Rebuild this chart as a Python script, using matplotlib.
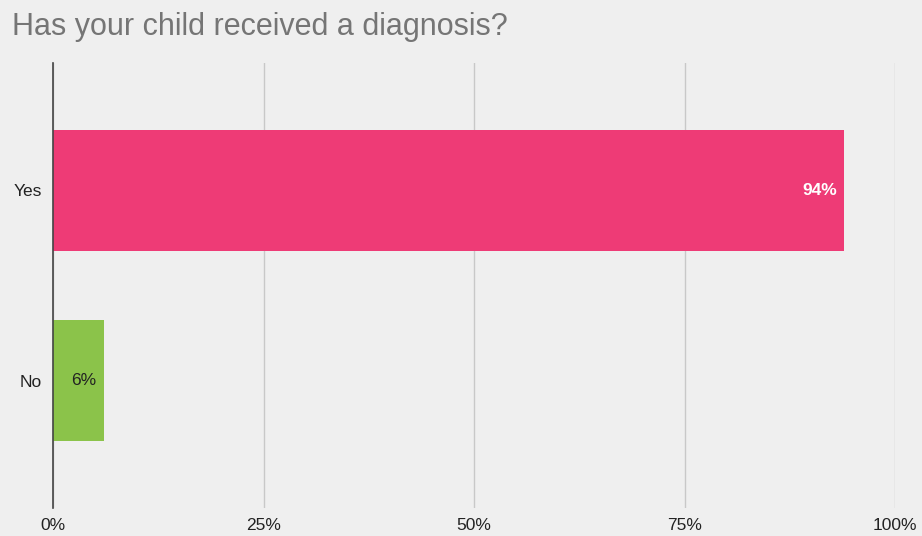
import matplotlib
matplotlib.use("Agg")
from matplotlib import pyplot as plt
from matplotlib.ticker import FuncFormatter

categories = ["Yes", "No"]
values = [94, 6]
bar_colors = ["#EE3B76", "#8BC34A"]
label_colors = ["white", "#222222"]
ticks = [0, 25, 50, 75, 100]

plt.rcParams['font.family'] = ['Liberation Sans', 'DejaVu Sans']

fig = plt.figure(figsize=(9.22, 5.36), dpi=100)
fig.patch.set_facecolor("#EFEFEF")
ax = fig.add_axes([53 / 922, 1 - 508 / 536, (895 - 53) / 922, (508 - 63) / 536])
ax.set_facecolor("#EFEFEF")

ypos = list(range(len(categories)))
ax.barh(ypos, values, height=0.64, color=bar_colors, zorder=3)
for y, v, c in zip(ypos, values, label_colors):
    ax.text(v - 0.9, y, "%d%%" % v, ha="right", va="center", color=c,
            fontsize=12.5, fontweight="bold" if c == "white" else "normal", zorder=4)

ax.set_xlim(0, 100)
ax.set_ylim(1.67, -0.67)
ax.set_yticks(ypos)
ax.set_yticklabels(categories, fontsize=12.5, color="#222222")
ax.set_xticks(ticks)
ax.xaxis.set_major_formatter(FuncFormatter(lambda x, p: "%d%%" % x))
ax.tick_params(axis="x", labelsize=12.5, labelcolor="#222222", length=0, pad=7)
ax.tick_params(axis="y", length=0, pad=8)
ax.grid(axis="x", color="#C8C8C8", linewidth=1, zorder=0)
for s in ["top", "right", "bottom"]:
    ax.spines[s].set_visible(False)
ax.spines["left"].set_color("#444444")
ax.spines["left"].set_linewidth(1.2)
ax.spines["left"].set_zorder(5)

fig.text(12 / 922, 1 - 27 / 536, "Has your child received a diagnosis?",
         fontsize=22, color="#757575", va="center", ha="left")

fig.savefig("out.png", dpi=100, facecolor=fig.get_facecolor())
